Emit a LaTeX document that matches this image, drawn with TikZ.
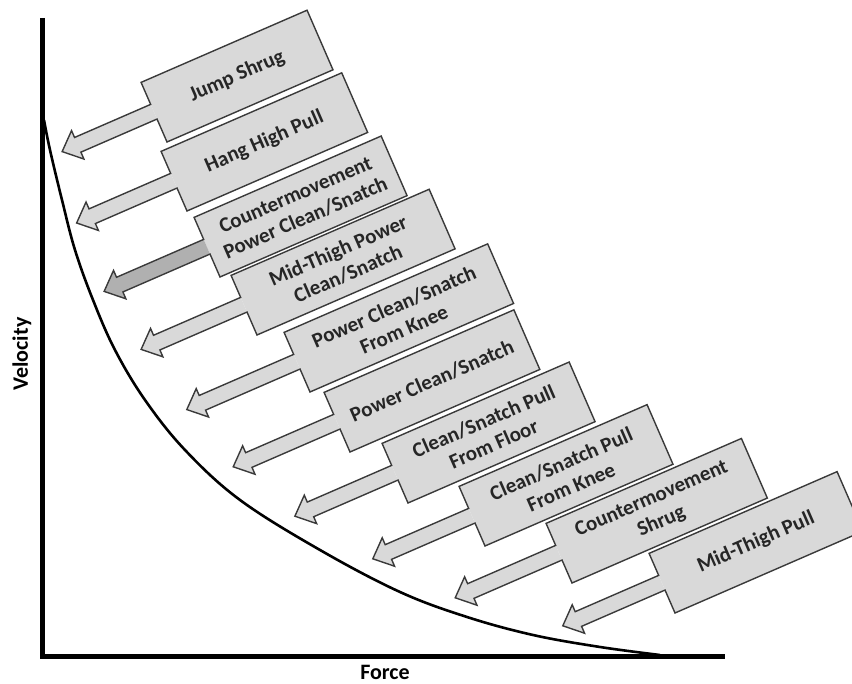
\documentclass[tikz,border=0pt]{standalone}
\usepackage{fontspec}
\setmainfont{Carlito}
\usepackage{tikz}

\definecolor{boxgray}{HTML}{D9D9D9}
\definecolor{arrowdark}{HTML}{B0B0B0}
\definecolor{edgegray}{HTML}{3A3A3A}
\definecolor{textgray}{HTML}{262626}

\tikzset{
  callout/.style={draw=edgegray, line width=0.7pt, line join=miter},
  calltext/.style={font=\bfseries\fontsize{10.5}{12.5}\selectfont, text=textgray, align=center, transform shape},
  axisline/.style={line width=2.5pt, line join=miter},
  axislabel/.style={font=\bfseries\fontsize{11}{13}\selectfont}
}

\begin{document}
\begin{tikzpicture}[x=0.5pt, y=0.5pt]
\useasboundingbox (0,0) rectangle (852,684);

% axes
\coordinate (ytop) at (42,666);
\coordinate (origin) at (42,27);
\coordinate (xend) at (725,27);
\draw[axisline] (ytop) -- (origin) -- (xend);
\node[axislabel, rotate=90] (vlabel) at (22,330) {Velocity};
\node[axislabel] (flabel) at (385,12) {Force};

% force-velocity curve
\draw[line width=1.3pt] plot[smooth, tension=0.6] coordinates {(44,564) (50,534) (62,484) (75,434) (93,384) (115,334) (145,284) (185,234) (240,184) (320,134) (400,92) (467,67) (533,49) (600,37) (660,29)};

% callouts, corner x / corner y / width / arrow length / arrow fill / text
\foreach \bx/\by/\bw/\al/\fc/\txt [count=\i] in {
    167/542/181/100/boxgray/{Jump Shrug},
    187/473/197/106/boxgray/{Hang High Pull},
    220/407/204/112/arrowdark/{Countermovement\\Power Clean/Snatch},
    257/349/216/112/boxgray/{Mid-Thigh Power\\Clean/Snatch},
    310/292/222/120/boxgray/{Power Clean/Snatch\\From Knee},
    350/232/207/113/boxgray/{Power Clean/Snatch},
    408/181/204/109/boxgray/{Clean/Snatch Pull\\From Floor},
    485/138/205/108/boxgray/{Clean/Snatch Pull\\From Knee},
    572/101/213/113/boxgray/{Countermovement\\Shrug},
    675/71/205/108/boxgray/{Mid-Thigh Pull}}
{
  \begin{scope}[shift={(\bx,\by)}, rotate=23.5]
    \fill[boxgray] (0,0) rectangle (\bw,65);
    \fill[\fc] (0,25) -- (0,41) -- (-\al+17,41) -- (-\al+17,48.5) -- (-\al,33) -- (-\al+17,17.5) -- (-\al+17,25) -- cycle;
    \draw[callout] (0,0) -- (\bw,0) -- (\bw,65) -- (0,65) -- (0,41) -- (-\al+17,41) -- (-\al+17,48.5) -- (-\al,33) -- (-\al+17,17.5) -- (-\al+17,25) -- (0,25) -- cycle;
    \node[calltext] (call\i) at (\bw/2,32.5) {\txt};
  \end{scope}
}
\end{tikzpicture}
\end{document}
